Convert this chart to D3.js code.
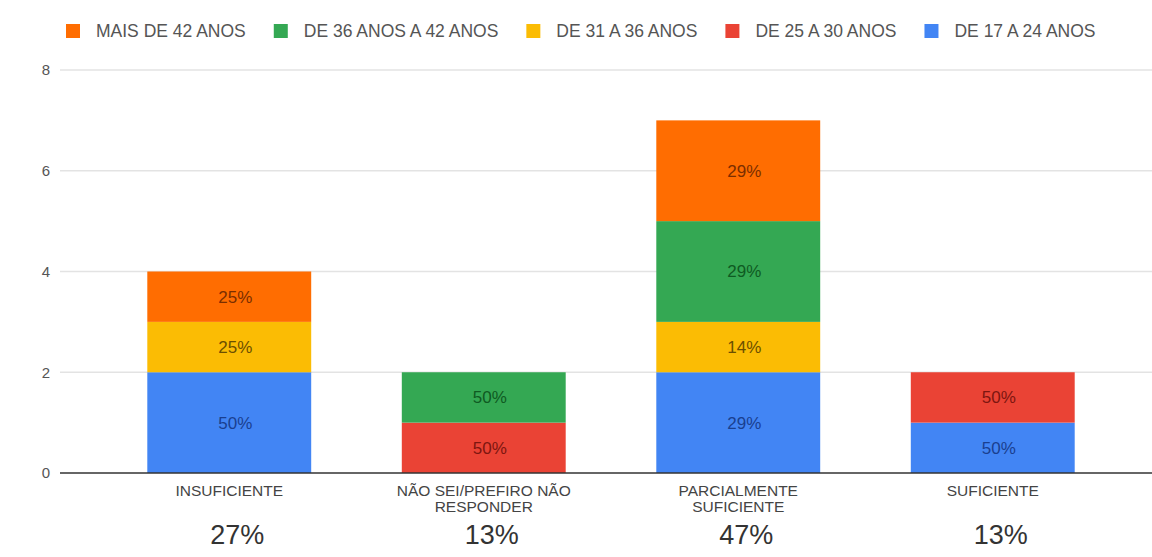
<!DOCTYPE html>
<html><head><meta charset="utf-8">
<script src="https://cdn.jsdelivr.net/npm/d3@7"></script>
<style>body{margin:0;background:#fff}svg{display:block}text{font-family:"Liberation Sans",Arial,sans-serif}</style>
</head><body><svg id="c" width="1152" height="557"></svg>
<script>
const categories = ["INSUFICIENTE", "NÃO SEI/PREFIRO NÃO RESPONDER", "PARCIALMENTE SUFICIENTE", "SUFICIENTE"];
const categoryLines = [["INSUFICIENTE"], ["NÃO SEI/PREFIRO NÃO", "RESPONDER"], ["PARCIALMENTE", "SUFICIENTE"], ["SUFICIENTE"]];
const seriesNames = ["DE 17 A 24 ANOS", "DE 25 A 30 ANOS", "DE 31 A 36 ANOS", "DE 36 ANOS A 42 ANOS", "MAIS DE 42 ANOS"];
const s17a24 = [2, 0, 2, 1];
const s25a30 = [0, 1, 0, 1];
const s31a36 = [1, 0, 1, 0];
const s36a42 = [0, 1, 2, 0];
const sMais42 = [1, 0, 2, 0];
const yTicks = [0, 2, 4, 6, 8];
const colors = ["#4285F4", "#EA4335", "#FBBC04", "#34A853", "#FF6D01"];
const labelColors = ["#1a3f8f", "#7d1610", "#6b4f00", "#0f5a22", "#7a2e00"];

const seriesVals = [s17a24, s25a30, s31a36, s36a42, sMais42];
const rows = categories.map((c, i) => {
  const r = {cat: c};
  seriesNames.forEach((s, j) => r[s] = seriesVals[j][i]);
  return r;
});
const totals = categories.map((c, i) => d3.sum(seriesVals, v => v[i]));
const grand = d3.sum(totals);

const svg = d3.select("#c");
const y = d3.scaleLinear().domain([0, 8]).range([473, 70]);
const x = d3.scaleBand().domain(categories).range([102, 1120]).paddingInner(0.356).paddingOuter(0.178);

// grid
svg.append("g").selectAll("line").data(yTicks.filter(t => t > 0)).join("line")
  .attr("x1", 60).attr("x2", 1152).attr("y1", d => y(d)).attr("y2", d => y(d))
  .attr("stroke", "#e3e3e3").attr("stroke-width", 1.5);
const yAxis = d3.axisLeft(y).tickValues(yTicks).tickSize(0).tickPadding(0);
const ya = svg.append("g").attr("transform", "translate(50,0)").call(yAxis);
ya.select(".domain").remove();
ya.selectAll("text").attr("font-size", 15).attr("fill", "#555").attr("font-family", "Liberation Sans, Arial, sans-serif");

const stack = d3.stack().keys(seriesNames)(rows);
const layers = svg.append("g").selectAll("g").data(stack).join("g").attr("fill", (d, i) => colors[i]);
layers.selectAll("rect").data(d => d.map(p => ({p, key: d.key}))).join("rect")
  .filter(d => d.p[1] > d.p[0])
  .attr("x", d => x(d.p.data.cat)).attr("width", x.bandwidth())
  .attr("y", d => y(d.p[1])).attr("height", d => y(d.p[0]) - y(d.p[1]));

// segment labels
stack.forEach((layer, li) => {
  layer.forEach((p, ci) => {
    const v = p[1] - p[0];
    if (v <= 0) return;
    svg.append("text")
      .attr("x", x(p.data.cat) + x.bandwidth() / 2 + 6)
      .attr("y", (y(p[0]) + y(p[1])) / 2)
      .attr("dy", "0.35em").attr("text-anchor", "middle")
      .attr("font-size", 17).attr("fill", labelColors[li])
      .text(d3.format(".0%")(v / totals[ci]));
  });
});

// baseline
svg.append("line").attr("x1", 60).attr("x2", 1152).attr("y1", y(0)).attr("y2", y(0))
  .attr("stroke", "#333").attr("stroke-width", 1.5);

// category labels
categories.forEach((c, i) => {
  const cx = x(c) + x.bandwidth() / 2;
  categoryLines[i].forEach((ln, k) => {
    svg.append("text").attr("x", cx).attr("y", 496 + k * 16).attr("text-anchor", "middle")
      .attr("font-size", 15.5).attr("fill", "#444").text(ln);
  });
  svg.append("text").attr("x", cx + 8).attr("y", 544).attr("text-anchor", "middle")
    .attr("font-size", 27).attr("fill", "#333").text(d3.format(".0%")(totals[i] / grand));
});

// legend
const legOrder = seriesNames.map((s, i) => i).reverse();
let lx = 66;
legOrder.forEach(i => {
  svg.append("rect").attr("x", lx).attr("y", 24).attr("width", 14).attr("height", 14).attr("fill", colors[i]);
  const t = svg.append("text").attr("x", lx + 30).attr("y", 31).attr("dy", "0.35em")
    .attr("font-size", 17.5).attr("fill", "#555").text(seriesNames[i]);
  lx += 30 + t.node().getComputedTextLength() + 28;
});
</script></body></html>
